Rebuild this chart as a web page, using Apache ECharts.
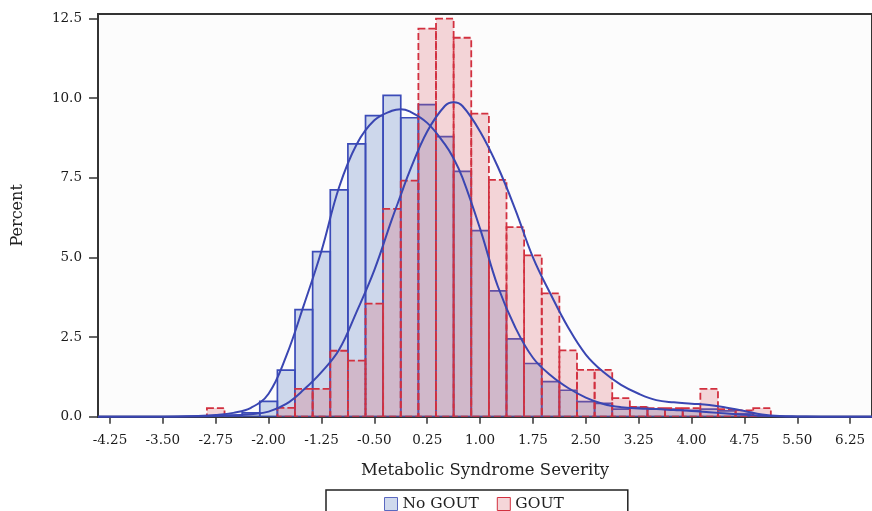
<!DOCTYPE html>
<html><head><meta charset="utf-8">
<script src="https://cdn.jsdelivr.net/npm/echarts@6/dist/echarts.min.js"></script>
<style>html,body{margin:0;padding:0;background:#fff}#c{width:872px;height:511px}</style>
</head><body><div id="c"></div>
<script>
// ---- data ----
const binWidth = 0.25;
const binCenters = [-2.75,-2.5,-2.25,-2.0,-1.75,-1.5,-1.25,-1.0,-0.75,-0.5,-0.25,0,0.25,0.5,0.75,1.0,1.25,1.5,1.75,2.0,2.25,2.5,2.75,3.0,3.25,3.5,3.75,4.0,4.25,4.5,4.75,5.0];
const noGoutPct = [0,0.05,0.12,0.48,1.46,3.36,5.18,7.12,8.56,9.45,10.08,9.38,9.79,8.79,7.70,5.84,3.95,2.44,1.67,1.10,0.83,0.47,0.42,0.24,0.29,0.24,0.24,0.2,0.24,0.18,0.1,0.03];
const goutPct   = [0.27,0,0,0,0.28,0.87,0.87,2.07,1.76,3.55,6.52,7.41,12.18,12.49,11.89,9.51,7.43,5.95,5.06,3.87,2.08,1.47,1.47,0.58,0.31,0.27,0.27,0.27,0.87,0.24,0.2,0.27];
const curveX        = [-4.42,-3.5,-3.0,-2.75,-2.5,-2.25,-2.0,-1.75,-1.5,-1.25,-1.0,-0.75,-0.5,-0.25,-0.125,0,0.25,0.5,0.625,0.75,1.0,1.25,1.5,1.75,2.0,2.25,2.5,2.75,3.0,3.25,3.5,3.75,4.0,4.25,4.5,4.75,5.0,5.25,5.5,6.0,6.56];
const curveNoGout   = [0,0,0.02,0.05,0.12,0.28,0.72,1.9,3.5,5.2,7.2,8.55,9.3,9.6,9.65,9.58,9.22,8.55,8.1,7.5,5.9,4.1,2.8,1.85,1.3,0.9,0.6,0.4,0.3,0.26,0.24,0.21,0.18,0.14,0.1,0.06,0.03,0.01,0,0,0];
const curveGout     = [0,0,0.01,0.02,0.04,0.08,0.16,0.4,0.85,1.4,2.1,3.3,4.6,6.2,6.95,7.7,8.95,9.75,9.87,9.75,8.95,7.85,6.5,5.0,3.85,2.8,1.95,1.4,1.0,0.72,0.52,0.45,0.41,0.37,0.28,0.18,0.07,0.02,0.01,0,0];
const xTicks = [-4.25,-3.5,-2.75,-2.0,-1.25,-0.5,0.25,1.0,1.75,2.5,3.25,4.0,4.75,5.5,6.25];
const yTicks = [0,2.5,5.0,7.5,10.0,12.5];
const xMin = -4.42, xMax = 6.56, yMax = 12.636;
const seriesNames = ['No GOUT','GOUT'];

const FONT = 'DejaVu Serif';
const blueStyle = {fill:'rgba(110,140,200,0.33)', stroke:'#3b4bb8', lineWidth:1.7};
const redStyle  = {fill:'rgba(215,95,107,0.26)', stroke:'#d2303f', lineWidth:1.8, lineDash:[7,3]};

function histRender(style){
  return function(params, api){
    const c = api.value(0), v = api.value(1);
    if (!v) return null;
    const p0 = api.coord([c - binWidth/2, v]);
    const p1 = api.coord([c + binWidth/2, 0]);
    return {type:'rect', shape:{x:p0[0], y:p0[1], width:p1[0]-p0[0], height:p1[1]-p0[1]}, style:Object.assign({}, style)};
  };
}
const zip = (a,b)=>a.map((x,i)=>[x,b[i]]);

const chart = echarts.init(document.getElementById('c'), null, {renderer:'canvas'});
chart.setOption({
  animation:false,
  backgroundColor:'#ffffff',
  grid:{left:98, top:14, right:-2, bottom:94.3, show:true, backgroundColor:'#fcfcfc', borderColor:'#333', borderWidth:2},
  legend:{
    left:326, top:490, orient:'horizontal',
    padding:[6,64,20,58], borderColor:'#222', borderWidth:1.5,
    itemWidth:13, itemHeight:13, itemGap:18,
    textStyle:{fontFamily:FONT, fontSize:15.5, color:'#222'},
    data:[
      {name:seriesNames[0], icon:'rect', itemStyle:{color:'rgba(110,140,200,0.33)', borderColor:'#5a68c0', borderWidth:1}},
      {name:seriesNames[1], icon:'rect', itemStyle:{color:'rgba(215,95,107,0.26)', borderColor:'#d2303f', borderWidth:1}}
    ]
  },
  xAxis:{
    type:'value', min:xMin, max:xMax,
    name:'Metabolic Syndrome Severity', nameLocation:'middle', nameGap:46,
    nameTextStyle:{fontFamily:FONT, fontSize:16.5, color:'#222'},
    axisLine:{show:true, onZero:false, lineStyle:{color:'#333', width:2}},
    axisTick:{show:true, length:7, customValues:xTicks, lineStyle:{color:'#333', width:1.5}},
    axisLabel:{customValues:xTicks, margin:17, fontFamily:FONT, fontSize:13.5, color:'#1a1a1a', formatter:v=>v.toFixed(2)},
    splitLine:{show:false}
  },
  yAxis:{
    type:'value', min:0, max:yMax,
    name:'Percent', nameLocation:'middle', nameGap:72, nameRotate:90,
    nameTextStyle:{fontFamily:FONT, fontSize:16, color:'#222'},
    axisLine:{show:true, onZero:false, lineStyle:{color:'#333', width:2}},
    axisTick:{show:true, length:9, customValues:yTicks, lineStyle:{color:'#333', width:1.5}},
    axisLabel:{customValues:yTicks, margin:16, fontFamily:FONT, fontSize:13.5, color:'#1a1a1a', formatter:v=>v.toFixed(1)},
    splitLine:{show:false}
  },
  series:[
    {name:seriesNames[0], type:'custom', renderItem:histRender(blueStyle), data:zip(binCenters,noGoutPct), z:2, clip:true},
    {name:seriesNames[1], type:'custom', renderItem:histRender(redStyle), data:zip(binCenters,goutPct), z:3, clip:true},
    {name:'No GOUT density', type:'line', data:zip(curveX,curveNoGout), smooth:0.4, showSymbol:false, z:5,
      lineStyle:{color:'#3a46b2', width:2}, itemStyle:{color:'#3a46b2'}},
    {name:'GOUT density', type:'line', data:zip(curveX,curveGout), smooth:0.4, showSymbol:false, z:5,
      lineStyle:{color:'#3a46b2', width:2}, itemStyle:{color:'#3a46b2'}}
  ]
});
</script></body></html>
